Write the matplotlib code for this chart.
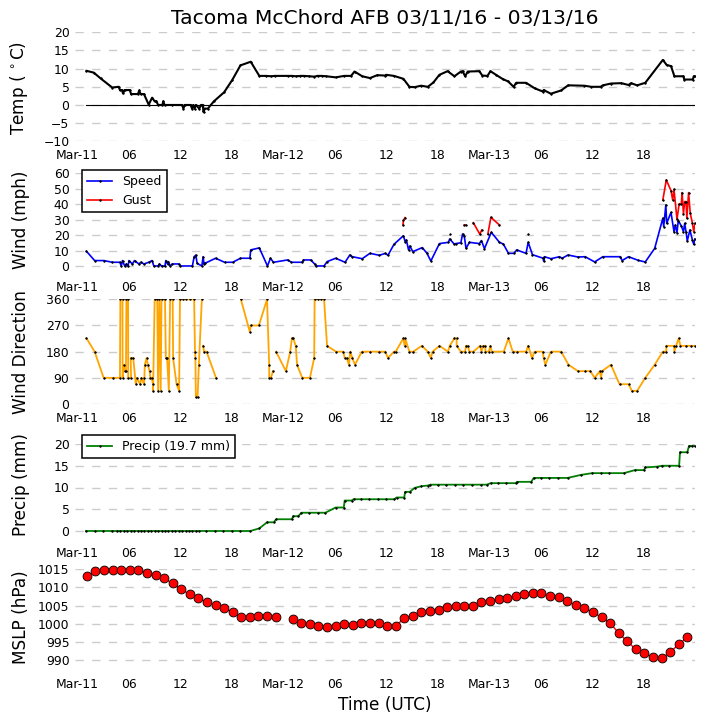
import matplotlib
matplotlib.use('Agg')
import matplotlib.pyplot as plt
nan = float('nan')

tick_hours = [0, 6, 12, 18, 24, 30, 36, 42, 48, 54, 60, 66]
tick_labels = ['Mar-11', '06', '12', '18', 'Mar-12', '06', '12', '18', 'Mar-13', '06', '12', '18']

temp_h = [1.05, 1.9, 2.7, 4.05, 4.8, 4.95, 5.2, 5.3, 5.5, 6.1, 6.25, 7.05, 7.2, 7.35, 7.75, 8.3, 8.7, 9.0, 9.2, 9.4, 9.9, 10.0, 10.15, 11.0, 12.2, 12.35, 12.5, 13.2, 13.35, 13.5, 13.65, 13.8, 14.2, 14.4, 14.6, 14.7, 14.8, 15.2, 15.9, 17.1, 18.05, 19.0, 20.2, 21.2, 22.0, 22.6, 23.0, 24.5, 25.0, 25.5, 26.0, 26.4, 27.0, 27.6, 28.0, 28.5, 29.0, 30.1, 31.1, 31.9, 32.3, 33.2, 34.1, 34.95, 35.85, 36.0, 36.9, 38.0, 38.7, 39.3, 40.05, 40.85, 41.5, 42.2, 43.15, 43.95, 44.7, 44.9, 45.2, 45.5, 46.85, 47.2, 47.8, 48.15, 48.8, 49.6, 50.2, 50.85, 51.15, 52.3, 53.3, 54.25, 54.35, 55.2, 56.4, 57.2, 59.1, 59.9, 61.0, 61.25, 62.2, 63.4, 64.25, 64.55, 65.25, 66.2, 68.25, 68.7, 69.2, 69.6, 70.65, 70.75, 71.75, 71.85, 72.0]
temp_v = [9.4, 8.9, 7.3, 4.8, 5.0, 4.1, 4.1, 3.2, 4.1, 4.1, 3.0, 3.0, 4.0, 3.0, 3.0, 0.1, 2.0, 1.0, 1.0, 0.0, 0.0, 1.0, 0.0, 0.0, 0.0, -1.0, 0.0, 0.0, -1.0, 0.0, -1.0, 0.0, -1.0, 0.0, 0.0, -2.0, -1.0, -1.0, 1.0, 3.5, 6.9, 10.9, 11.9, 8.0, 8.0, 7.9, 8.0, 8.0, 8.0, 7.9, 8.0, 8.0, 7.9, 7.8, 8.0, 8.0, 7.9, 7.6, 8.0, 8.0, 9.2, 7.9, 7.4, 8.2, 8.1, 8.3, 8.0, 7.2, 5.0, 4.9, 5.3, 5.0, 6.2, 8.3, 9.3, 7.9, 9.2, 9.3, 7.9, 9.2, 9.3, 8.1, 8.0, 9.3, 8.3, 7.1, 6.5, 5.0, 6.1, 6.1, 4.6, 3.7, 4.1, 3.1, 4.0, 5.4, 5.3, 5.0, 5.0, 5.4, 5.9, 6.0, 5.5, 6.0, 5.4, 6.1, 12.4, 11.0, 10.7, 7.9, 7.9, 7.0, 7.0, 7.9, 7.9]

speed_h = [1.05, 2.0, 3.1, 4.05, 4.95, 5.1, 5.25, 5.5, 5.7, 5.9, 6.0, 6.4, 6.65, 7.15, 7.4, 7.75, 8.3, 8.7, 8.9, 9.4, 9.55, 9.8, 10.2, 10.3, 10.5, 10.6, 10.8, 11.05, 11.8, 12.0, 13.4, 13.6, 13.8, 13.95, 14.5, 14.65, 14.75, 14.85, 16.1, 17.15, 18.1, 19.0, 20.1, 20.2, 21.2, 22.15, 22.5, 22.85, 24.5, 24.95, 26.2, 26.35, 27.2, 27.65, 27.8, 28.75, 29.1, 30.1, 31.2, 31.75, 32.05, 33.2, 34.1, 35.2, 35.9, 36.2, 36.9, 38.0, 38.2, 38.35, 38.6, 38.75, 39.1, 40.2, 40.75, 41.2, 42.2, 43.25, 43.4, 43.95, 44.1, 44.7, 44.9, 45.1, 45.3, 45.7, 46.85, 47.1, 47.45, 48.25, 49.2, 49.65, 50.25, 50.9, 51.2, 52.3, 52.55, 53.05, 54.3, 54.35, 54.45, 55.2, 56.2, 56.5, 57.2, 58.35, 59.2, 60.3, 61.25, 63.3, 63.5, 64.25, 65.35, 66.2, 67.3, 68.25, 68.35, 68.6, 68.7, 69.2, 69.55, 69.7, 69.9, 70.05, 70.4, 70.65, 70.8, 70.95, 71.1, 71.4, 71.7, 71.85, 72.0]
speed_v = [9.5, 3.5, 3.5, 2.4, 2.4, 0.0, 3.5, 0.0, 1.3, 0.0, 3.5, 1.3, 3.5, 1.3, 2.4, 1.3, 2.4, 3.5, 0.0, 0.0, 1.3, 0.0, 0.0, 3.5, 1.3, 2.8, 0.0, 1.3, 1.3, 0.0, 0.0, 6.0, 7.0, 1.7, 0.0, 6.0, 1.3, 1.7, 5.0, 2.4, 2.4, 5.0, 5.0, 10.4, 11.7, 0.0, 5.0, 2.4, 3.9, 2.4, 2.4, 3.9, 3.9, 1.3, 0.0, 0.0, 2.8, 5.0, 2.4, 7.1, 6.0, 4.7, 8.2, 6.9, 8.2, 6.9, 14.0, 19.6, 15.8, 16.8, 10.4, 12.9, 9.3, 11.9, 8.2, 3.2, 14.5, 15.3, 17.5, 14.0, 14.5, 15.0, 20.7, 19.4, 11.4, 15.3, 14.5, 16.4, 11.2, 21.8, 15.3, 14.2, 8.2, 8.2, 10.4, 8.2, 15.3, 7.3, 5.0, 3.2, 6.0, 4.7, 6.0, 5.0, 7.1, 5.8, 6.0, 2.6, 6.0, 6.0, 3.5, 6.0, 3.7, 2.6, 11.4, 30.9, 25.5, 39.5, 27.6, 34.7, 22.2, 26.5, 21.6, 29.4, 26.0, 22.2, 27.6, 22.2, 16.2, 23.3, 16.8, 14.0, 17.5]

gust_h = [37.95, 38.0, 38.2, 38.5, 43.4, 43.5, 45.1, 45.3, 45.5, 46.15, 46.9, 47.15, 47.4, 47.85, 48.2, 49.2, 49.5, 52.55, 52.7, 68.25, 68.65, 69.2, 69.4, 69.55, 69.9, 70.15, 70.4, 70.5, 70.65, 70.8, 70.95, 71.05, 71.25, 71.45, 71.7, 71.85, 72.0]
gust_v = [26.5, 29.5, 31.3, nan, 20.7, nan, 26.5, 26.5, nan, 28.0, 20.7, 23.3, nan, 20.7, 31.5, 26.5, nan, 20.7, nan, 42.7, 55.7, 48.8, 42.7, 49.6, 30.2, 40.1, 40.1, 47.5, 33.7, 41.7, 41.7, 30.9, 47.5, 34.0, 27.6, 22.2, 27.6]

dir_h = [1.05, 2.0, 3.05, 4.1, 4.95, 5.0, 5.25, 5.26, 5.4, 5.55, 5.65, 5.7, 5.9, 5.91, 6.25, 6.2, 6.5, 6.8, 6.9, 7.3, 7.45, 7.75, 7.8, 7.85, 8.05, 8.2, 8.4, 8.5, 8.65, 8.8, 8.81, 9.0, 9.3, 9.4, 9.55, 9.7, 9.8, 10.2, 10.3, 10.45, 10.65, 10.8, 11.1, 11.15, 11.55, 11.85, 11.95, 12.3, 12.7, 13.1, 13.6, 13.7, 13.75, 13.8, 14.0, 14.15, 14.5, 14.58, 14.65, 14.75, 15.05, 16.15, 17.5, 19.05, 20.1, 20.2, 21.15, 22.1, 22.35, 22.36, 22.55, 22.8, 23.0, 23.15, 24.3, 24.8, 25.0, 25.15, 25.45, 25.6, 26.2, 27.1, 27.6, 27.65, 28.0, 28.4, 28.75, 29.1, 30.15, 31.0, 31.15, 31.4, 31.65, 31.8, 32.05, 32.35, 33.15, 34.1, 35.1, 35.9, 36.2, 36.9, 37.1, 38.0, 38.15, 38.2, 38.7, 39.15, 40.15, 40.85, 41.2, 41.4, 42.2, 43.2, 43.4, 43.95, 44.2, 44.21, 44.7, 45.2, 45.3, 45.5, 45.7, 46.15, 46.95, 47.1, 47.3, 47.55, 47.56, 47.95, 48.15, 48.3, 49.7, 50.25, 50.75, 51.2, 52.3, 52.55, 53.0, 53.3, 54.25, 54.35, 54.55, 55.2, 56.4, 57.25, 58.35, 59.2, 59.8, 60.3, 60.9, 61.05, 61.15, 62.2, 63.2, 64.25, 64.65, 65.25, 66.2, 67.3, 68.25, 68.65, 68.66, 69.55, 69.6, 69.8, 70.1, 70.3, 71.0, 71.5, 72.0]
dir_v = [226, 180, 90, 90, 90, 360, 360, 90, 135, 113, 113, 360, 360, 90, 90, 158, 158, 68, 90, 68, 90, 68, 90, 135, 158, 135, 113, 90, 90, 68, 45, 360, 360, 45, 360, 45, 360, 360, 158, 158, 45, 360, 360, 158, 68, 45, 360, 360, 360, 360, 360, 180, 158, 23, 23, 135, 360, nan, 200, 180, 180, 90, nan, 360, 247, 270, 270, 360, 135, 90, 90, 113, nan, 180, 113, 180, 226, 226, 200, 135, 90, 90, 158, 360, 360, 360, 360, 200, 180, 180, 158, 158, 135, 180, 158, 135, 180, 180, 180, 180, 158, 180, 180, 226, 200, 226, 180, 180, 200, 180, 158, 180, 200, 180, 200, 226, 226, 200, 180, 180, 200, 200, 180, 180, 200, 180, 200, 200, 180, 180, 200, 180, 180, 226, 180, 180, 180, 200, 158, 180, 180, 158, 135, 180, 180, 135, 113, 113, 113, 90, 113, 90, 113, 135, 68, 68, 45, 45, 90, 135, 180, 180, 200, 200, 180, 200, 226, 200, 200, 200, 200]

precip_h = [1.0, 2.0, 3.0, 4.0, 4.6, 5.0, 5.4, 5.8, 6.2, 6.6, 7.0, 7.4, 7.8, 8.2, 8.6, 9.0, 9.4, 9.8, 10.2, 10.6, 11.0, 11.4, 11.8, 12.2, 12.6, 13.0, 13.4, 13.8, 14.2, 15.0, 16.0, 17.0, 18.0, 19.0, 20.15, 21.2, 22.1, 22.9, 23.15, 25.0, 25.15, 25.75, 26.1, 27.0, 28.0, 28.9, 30.1, 31.05, 31.15, 31.95, 32.2, 33.0, 34.0, 35.0, 36.0, 36.95, 37.2, 38.1, 38.2, 38.75, 39.3, 40.1, 40.85, 41.15, 42.0, 43.0, 44.0, 45.0, 46.0, 47.0, 47.7, 48.2, 49.0, 50.0, 51.1, 51.25, 52.9, 53.2, 54.0, 55.0, 56.0, 57.15, 58.7, 60.0, 61.0, 62.0, 63.7, 65.0, 66.05, 66.2, 67.6, 68.15, 69.0, 70.15, 70.25, 71.1, 71.3, 71.6, 72.0]
precip_v = [0.0] * 35 + [0.6, 2.0, 2.0, 2.7, 2.7, 3.4, 3.4, 4.2, 4.2, 4.2, 4.2, 5.4, 5.4, 7.0, 7.0, 7.3, 7.3, 7.3, 7.3, 7.3, 7.3, 7.7, 7.7, 9.0, 9.0, 9.9, 10.3, 10.45, 10.65, 10.65, 10.65, 10.65, 10.65, 10.65, 10.65, 10.65, 11.0, 11.0, 11.0, 11.0, 11.3, 11.3, 12.2, 12.2, 12.2, 12.2, 12.2, 12.9, 13.3, 13.3, 13.3, 13.3, 14.0, 14.0, 14.6, 14.8, 15.0, 15.0, 15.0, 18.1, 18.1, 19.55, 19.55, 19.55]

mslp_h = [1.1, 2.1, 3.1, 4.1, 5.1, 6.1, 7.1, 8.1, 9.1, 10.1, 11.1, 12.1, 13.1, 14.1, 15.1, 16.1, 17.1, 18.1, 19.1, 20.1, 21.1, 22.1, 23.1, 24.1, 25.1, 26.1, 27.1, 28.1, 29.1, 30.1, 31.1, 32.1, 33.1, 34.1, 35.1, 36.1, 37.1, 38.1, 39.1, 40.1, 41.1, 42.1, 43.1, 44.1, 45.1, 46.1, 47.1, 48.1, 49.1, 50.1, 51.1, 52.1, 53.1, 54.1, 55.1, 56.1, 57.1, 58.1, 59.1, 60.1, 61.1, 62.1, 63.1, 64.1, 65.1, 66.1, 67.1, 68.1, 69.1, 70.1, 71.1]
mslp_v = [1013.2, 1014.4, 1014.7, 1014.7, 1014.7, 1014.7, 1014.7, 1014.1, 1013.3, 1012.5, 1011.1, 1009.5, 1008.1, 1007.0, 1005.9, 1005.3, 1004.3, 1003.2, 1001.8, 1001.8, 1002.1, 1002.1, 1001.8, nan, 1001.3, 1000.2, 1000.0, 999.4, 999.1, 999.4, 1000.1, 999.7, 1000.2, 1000.2, 1000.2, 999.4, 999.4, 1001.6, 1002.1, 1003.2, 1003.5, 1003.8, 1004.6, 1004.9, 1004.9, 1004.9, 1005.9, 1006.2, 1006.8, 1007.0, 1007.6, 1008.1, 1008.4, 1008.4, 1007.6, 1007.3, 1006.2, 1005.1, 1004.3, 1003.2, 1001.8, 1000.2, 997.5, 995.2, 993.0, 991.9, 990.8, 990.5, 992.2, 994.4, 996.3]

W, H = 705, 725
fig = plt.figure(figsize=(W / 100, H / 100), dpi=100)
TICK = 8.9
LAB = 12.2


def panel(top, bottom, ylim, yticks, ylabel, label_x, label_y):
    ax = fig.add_axes([75 / W, 1 - bottom / H, 620 / W, (bottom - top) / H])
    ax.set_xlim(-0.29, 72)
    ax.set_ylim(*ylim)
    ax.set_yticks(yticks)
    ax.set_xticks(tick_hours)
    ax.set_xticklabels(tick_labels)
    ax.tick_params(axis='y', length=0, labelsize=TICK, pad=4)
    ax.tick_params(axis='x', length=0, labelsize=TICK, pad=5.5)
    ax.grid(axis='y', color='#cccccc', lw=1, linestyle=(0, (6, 6)))
    ax.set_axisbelow(True)
    for s in ax.spines.values():
        s.set_visible(False)
    ax.set_ylabel(ylabel, fontsize=LAB)
    ax.yaxis.set_label_coords((label_x - 75) / 620, (bottom - label_y) / (bottom - top), transform=ax.transAxes)
    ax.yaxis.label.set_va('center')
    return ax


mk = dict(marker='.', markersize=2.5, markeredgecolor='k', markerfacecolor='k', markeredgewidth=0.4)
lk = dict(frameon=True, fancybox=False, edgecolor='k', framealpha=1, fontsize=9, borderaxespad=0, loc='upper left')

ax1 = panel(32.3, 141.3, (-10, 20), [-10, -5, 0, 5, 10, 15, 20], 'Temp ($\\,^\\circ$C)', 19, 87.5)
ax1.plot([temp_h[0], temp_h[-1]], [0, 0], color='k', lw=0.8)
ax1.plot(temp_h, temp_v, color='k', lw=1.5, **mk)
fig.text(385 / W, 1 - 19 / H, 'Tacoma McChord AFB 03/11/16 - 03/13/16', ha='center', va='center', fontsize=14.6)

ax2 = panel(173.3, 273.7, (-5, 60), [0, 10, 20, 30, 40, 50, 60], 'Wind (mph)', 21.5, 220)
ax2.plot(speed_h, speed_v, color='b', lw=1.2, label='Speed', **mk)
ax2.plot(gust_h, gust_v, color='r', lw=1.2, label='Gust', **mk)
leg = ax2.legend(bbox_to_anchor=(7.3 / 620, 1 + 3.3 / 100.4), **lk)
leg.get_frame().set_linewidth(1.1)

ax3 = panel(299.3, 404, (0, 360), [0, 90, 180, 270, 360], 'Wind Direction', 21.5, 352)
ax3.plot(dir_h, dir_v, color='orange', lw=1.3, **mk)

ax4 = panel(444, 539.7, (-2, 20), [0, 5, 10, 15, 20], 'Precip (mm)', 21, 485)
ax4.plot(precip_h, precip_v, color='green', lw=1.3, label='Precip (19.7 mm)', **mk)
leg = ax4.legend(bbox_to_anchor=(7.3 / 620, 1 + 9 / 95.7), **lk)
leg.get_frame().set_linewidth(1.1)

ax5 = panel(569.3, 670.3, (987.25, 1015), [990, 995, 1000, 1005, 1010, 1015], 'MSLP (hPa)', 21, 617)
ax5.plot(mslp_h, mslp_v, color='r', lw=1, marker='o', markersize=6.4, markeredgecolor='k', markeredgewidth=0.6, clip_on=False)
ax5.set_xlabel('Time (UTC)', fontsize=LAB)
ax5.xaxis.set_label_coords((385 - 75) / 620, (670.3 - 705) / 101, transform=ax5.transAxes)
ax5.xaxis.label.set_va('center')

fig.savefig('out.png', dpi=100)
